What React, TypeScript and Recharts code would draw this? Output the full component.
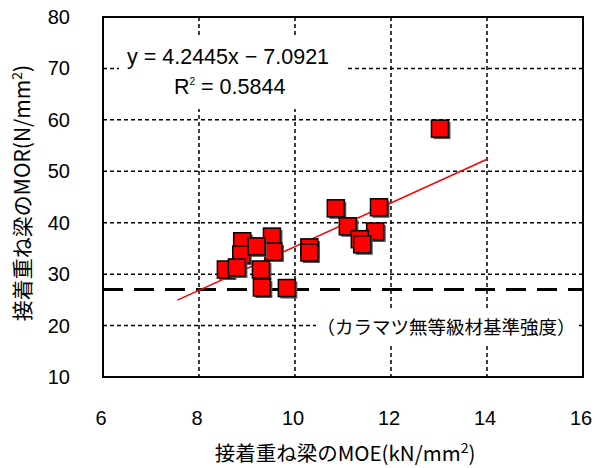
import React from "react";
import {
  ScatterChart,
  Scatter,
  XAxis,
  YAxis,
  CartesianGrid,
  ReferenceLine,
  ReferenceArea,
} from "recharts";

// MOE (kN/mm2) and MOR (N/mm2) of each glued laminated beam
const moe = [13.02, 11.75, 10.85, 11.1, 11.67, 11.35, 11.4, 10.3, 10.3, 8.9, 8.88, 9.52, 9.55, 9.2, 8.56, 8.79, 9.29, 9.31, 9.83];
const mor = [58.3, 43.0, 42.8, 39.3, 38.3, 36.8, 35.8, 35.2, 34.2, 36.4, 33.8, 37.3, 34.4, 35.4, 30.9, 31.3, 30.9, 27.4, 27.3];

// least-squares fit shown in the label
const slope = 4.2445;
const intercept = -7.0921;
const r2 = 0.5844;
const fitRange = [7.55, 14];

// standard strength of ungraded larch
const baseStrength = 27;

const xTicks = [6, 8, 10, 12, 14, 16];
const yTicks = [10, 20, 30, 40, 50, 60, 70, 80];

const points = moe.map((x, i) => ({ x, y: mor[i] }));
const fitLine = fitRange.map((x) => ({ x, y: slope * x + intercept }));

const jp = "'Noto Sans CJK JP', sans-serif";
const num = "'Liberation Sans', Arial, sans-serif";

const SquareMarker = (props: any) => {
  const { cx, cy } = props;
  if (cx == null || cy == null) return null;
  const s = 17;
  return (
    <g>
      <rect x={cx - s / 2 + 2} y={cy - s / 2 + 2} width={s} height={s} fill="#555" />
      <rect x={cx - s / 2} y={cy - s / 2} width={s} height={s} fill="#ff0000" stroke="#000" strokeWidth={1.5} />
    </g>
  );
};

const XTick = ({ x, y, payload }: any) => (
  <text x={x - 2} y={y + 40} textAnchor="middle" fontSize={20} fontFamily={num} fill="#000">
    {payload.value}
  </text>
);

const YTick = ({ x, y, payload }: any) => (
  <text x={x - 25} y={y + 7} textAnchor="end" fontSize={20} fontFamily={num} fill="#000">
    {payload.value}
  </text>
);

export default function App() {
  return (
    <div style={{ position: "absolute", left: 0, top: 0, width: 595, height: 468, background: "#fff" }}>
      <ScatterChart width={595} height={468} margin={{ top: 17, right: 12, left: 0, bottom: 0 }}>
        <CartesianGrid stroke="#000" strokeWidth={1.5} strokeDasharray="4 3" />
        <XAxis
          type="number"
          dataKey="x"
          domain={[6, 16]}
          ticks={xTicks}
          height={91}
          tickLine={false}
          axisLine={false}
          tick={<XTick />}
          label={{
            position: "insideBottom",
            content: () => (
              <text x={345} y={461} textAnchor="middle" fontSize={20.5} fontFamily={jp} fill="#000">
                接着重ね梁のMOE(kN/mm<tspan fontSize={14} dy={-8}>2</tspan>
                <tspan dy={8}>)</tspan>
              </text>
            ),
          }}
        />
        <YAxis
          type="number"
          dataKey="y"
          domain={[10, 80]}
          ticks={yTicks}
          width={103}
          tickLine={false}
          axisLine={false}
          tick={<YTick />}
          label={{
            position: "insideLeft",
            content: () => (
              <text
                x={0}
                y={0}
                transform="translate(30,193) rotate(-90)"
                textAnchor="middle"
                fontSize={21}
                fontFamily={jp}
                fill="#000"
              >
                接着重ね梁のMOR(N/mm<tspan fontSize={14} dy={-8}>2</tspan>
                <tspan dy={8}>)</tspan>
              </text>
            ),
          }}
        />
        <ReferenceLine y={baseStrength} stroke="#000" strokeWidth={3} strokeDasharray="20 11" />
        <ReferenceArea x1={6} x2={16} y1={10} y2={80} fill="none" stroke="#000" strokeWidth={2} />
        <Scatter
          data={fitLine}
          line={{ stroke: "#ff0000", strokeWidth: 1.5 }}
          shape={() => null}
          isAnimationActive={false}
        />
        <Scatter data={points} shape={<SquareMarker />} isAnimationActive={false} />
      </ScatterChart>

      <div
        style={{
          position: "absolute",
          left: 119,
          top: 37,
          width: 226,
          height: 72,
          background: "#fff",
          fontFamily: num,
          fontSize: 21.5,
          color: "#000",
        }}
      >
        <div style={{ position: "absolute", left: 8, top: 8, whiteSpace: "nowrap" }}>
          y = {slope}x − {Math.abs(intercept)}
        </div>
        <div style={{ position: "absolute", left: 55, top: 38, whiteSpace: "nowrap" }}>
          R<span style={{ fontSize: 10, verticalAlign: 9 }}>2</span> = {r2}
        </div>
      </div>

      <div
        style={{
          position: "absolute",
          left: 316,
          top: 309,
          width: 260,
          height: 34,
          background: "#fff",
          fontFamily: jp,
          fontSize: 18.5,
          lineHeight: "34px",
          textAlign: "center",
          whiteSpace: "nowrap",
          color: "#000",
        }}
      >
        （カラマツ無等級材基準強度）
      </div>
    </div>
  );
}
